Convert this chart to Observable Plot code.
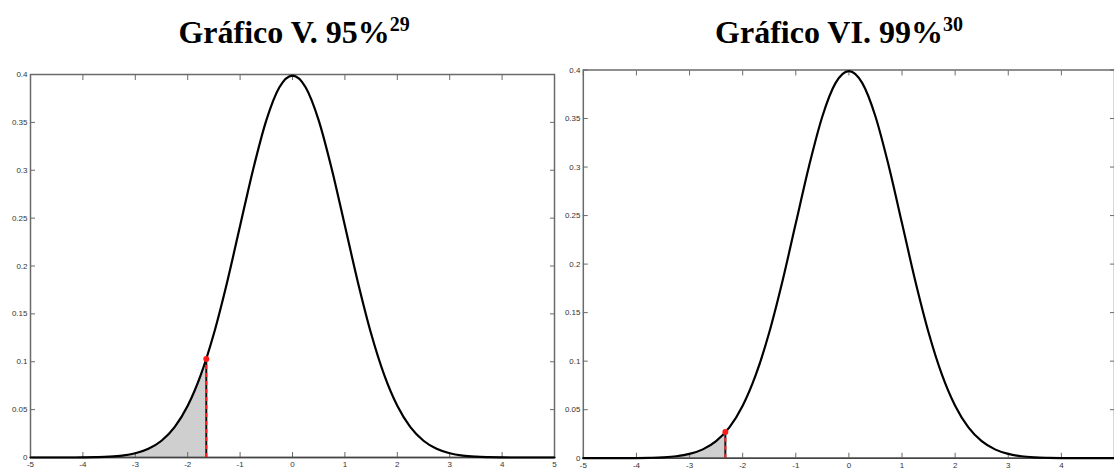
<!DOCTYPE html>
<html>
<head>
<meta charset="utf-8">
<script src="https://cdn.jsdelivr.net/npm/d3@7"></script>
<script src="https://cdn.jsdelivr.net/npm/@observablehq/plot@0.6"></script>
<style>
  html, body { margin: 0; padding: 0; background: #fff; overflow: hidden; width: 1114px; height: 472px; }
  .title { position: absolute; top: 16px; font-family: "Liberation Serif", "Times New Roman", serif; font-weight: bold; font-size: 32px; line-height: 32px; text-align: center; color: #000; white-space: nowrap; }
  .title .sup { font-size: 20px; vertical-align: 12px; line-height: 0; }
  .panel { position: absolute; top: 0; }
</style>
</head>
<body>
<div id="t1" class="title" style="left:0px; width:588px;"></div>
<div id="t2" class="title" style="left:564px; width:550px;"></div>
<div id="p1" class="panel" style="left:0px;"></div>
<div id="p2" class="panel" style="left:556px;"></div>
<script>
// Titles
const titles = ["Gráfico V. 95%", "Gráfico VI. 99%"];
const titleNotes = ["29", "30"];

// Standard normal density
const xValues = [-5, -4.75, -4.5, -4.25, -4, -3.75, -3.5, -3.25, -3, -2.75, -2.5, -2.25, -2, -1.75, -1.5, -1.25, -1, -0.75, -0.5, -0.25,
  0, 0.25, 0.5, 0.75, 1, 1.25, 1.5, 1.75, 2, 2.25, 2.5, 2.75, 3, 3.25, 3.5, 3.75, 4, 4.25, 4.5, 4.75, 5];
const densityValues = [0.0000, 0.0000, 0.0000, 0.0000, 0.0001, 0.0004, 0.0009, 0.0020, 0.0044, 0.0091, 0.0175, 0.0317, 0.0540, 0.0863, 0.1295, 0.1826, 0.2420, 0.3011, 0.3521, 0.3867,
  0.3989, 0.3867, 0.3521, 0.3011, 0.2420, 0.1826, 0.1295, 0.0863, 0.0540, 0.0317, 0.0175, 0.0091, 0.0044, 0.0020, 0.0009, 0.0004, 0.0001, 0.0000, 0.0000, 0.0000, 0.0000];

// Critical values (x) and density at them (y)
const criticalX = [-1.645, -2.326];
const criticalY = [0.103, 0.027];

// Tick values (the right panel's last label falls outside the picture)
const xTicks = [-5, -4, -3, -2, -1, 0, 1, 2, 3, 4, 5];
const xTickLabelsLeft = ["-5", "-4", "-3", "-2", "-1", "0", "1", "2", "3", "4", "5"];
const xTickLabelsRight = ["-5", "-4", "-3", "-2", "-1", "0", "1", "2", "3", "4", ""];
const yTicks = [0, 0.05, 0.1, 0.15, 0.2, 0.25, 0.3, 0.35, 0.4];
const yTickLabels = ["0", "0.05", "0.1", "0.15", "0.2", "0.25", "0.3", "0.35", "0.4"];

function panel(k, layout) {
  const curve = xValues.map((x, i) => ({x, y: densityValues[i]}));
  const shade = curve.filter(d => d.x < criticalX[k]).concat([{x: criticalX[k], y: criticalY[k]}]);
  const critical = [{x: criticalX[k], y: criticalY[k]}];
  const xLabels = k === 0 ? xTickLabelsLeft : xTickLabelsRight;
  const fmtX = d => xLabels[xTicks.indexOf(d)];
  const fmtY = d => yTickLabels[yTicks.indexOf(d)];
  const axisColor = "#6a6a6a";
  return Plot.plot({
    width: layout.width,
    height: 472,
    marginLeft: layout.marginLeft,
    marginRight: layout.marginRight,
    marginTop: layout.marginTop,
    marginBottom: layout.marginBottom,
    x: {domain: [-5, 5]},
    y: {domain: [0, 0.4]},
    style: {fontFamily: "'Liberation Sans', Arial, sans-serif", fontSize: "8px", color: "#333", background: "transparent", overflow: "visible"},
    marks: [
      Plot.areaY(shade, {x: "x", y: "y", fill: "#cfcfcf", curve: "monotone-x"}),
      Plot.frame({stroke: axisColor, strokeWidth: 1.5}),
      Plot.axisX({anchor: "bottom", label: null, ticks: xTicks, tickSize: -5, tickPadding: 9, tickFormat: fmtX, stroke: axisColor}),
      Plot.axisX({anchor: "top", label: null, ticks: xTicks, tickSize: -5, tickFormat: () => "", stroke: axisColor}),
      Plot.axisY({anchor: "left", label: null, ticks: yTicks, tickSize: -5, tickPadding: 8, tickFormat: fmtY, stroke: axisColor}),
      Plot.axisY({anchor: "right", label: null, ticks: yTicks, tickSize: -5, tickFormat: () => "", stroke: axisColor}),
      Plot.ruleY([0], {stroke: "#444", strokeWidth: 1.5}),
      Plot.lineY(curve, {x: "x", y: "y", stroke: "#000", strokeWidth: 2.2, curve: "monotone-x"}),
      Plot.ruleX(critical, {x: "x", y1: 0, y2: "y", stroke: "#111", strokeWidth: 2}),
      Plot.ruleX(critical, {x: "x", y1: 0, y2: "y", stroke: "#ff2020", strokeWidth: 2, strokeDasharray: "4,4"}),
      Plot.dot(critical, {x: "x", y: "y", r: 3, fill: "#ff1a1a", stroke: "none"})
    ]
  });
}

document.getElementById("t1").innerHTML = titles[0] + '<span class="sup">' + titleNotes[0] + '</span>';
document.getElementById("t2").innerHTML = titles[1] + '<span class="sup">' + titleNotes[1] + '</span>';

document.getElementById("p1").appendChild(panel(0, {width: 560, marginLeft: 30, marginRight: 6, marginTop: 74, marginBottom: 15}));
document.getElementById("p2").appendChild(panel(1, {width: 562, marginLeft: 27, marginRight: 0, marginTop: 70, marginBottom: 11}));
</script>
</body>
</html>
